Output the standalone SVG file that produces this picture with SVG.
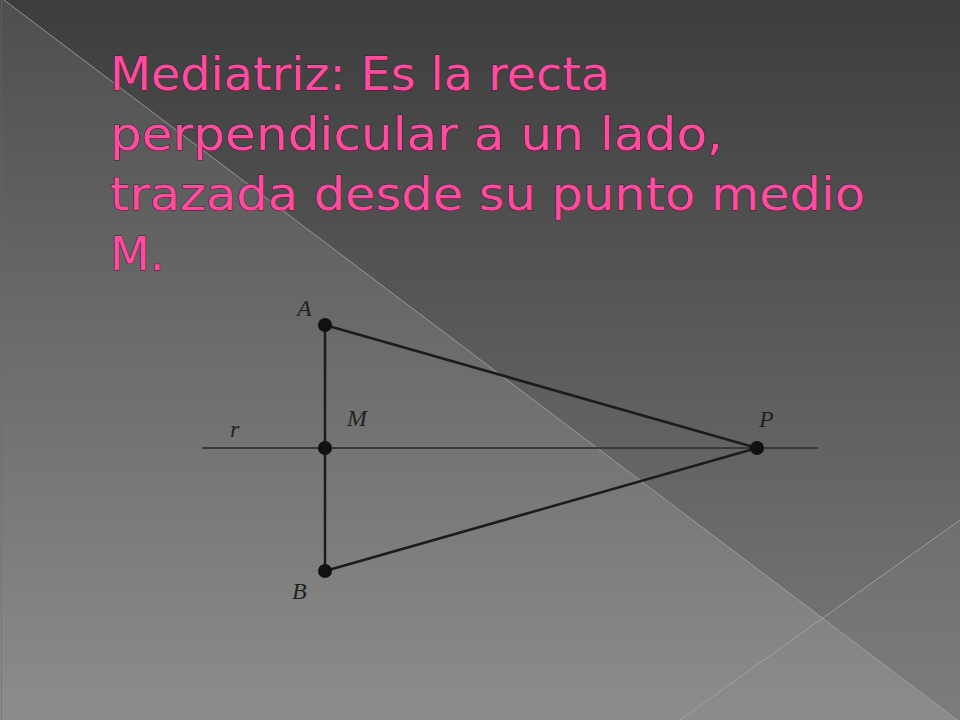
<svg xmlns="http://www.w3.org/2000/svg" width="960" height="720" viewBox="0 0 960 720">
  <defs>
    <linearGradient id="gTop" x1="0" y1="0" x2="0" y2="720" gradientUnits="userSpaceOnUse">
      <stop offset="0" stop-color="#3d3d3d"/>
      <stop offset="1" stop-color="#7a7a7a"/>
    </linearGradient>
    <linearGradient id="gLeft" x1="0" y1="0" x2="0" y2="720" gradientUnits="userSpaceOnUse">
      <stop offset="0" stop-color="#4e4e4e"/>
      <stop offset="1" stop-color="#8c8c8c"/>
    </linearGradient>
    <linearGradient id="gWedge" x1="0" y1="520" x2="0" y2="720" gradientUnits="userSpaceOnUse">
      <stop offset="0" stop-color="#6f6f6f"/>
      <stop offset="1" stop-color="#7c7c7c"/>
    </linearGradient>
    <style>
      .title { font-family: "Century Gothic", "URW Gothic", "DejaVu Sans", sans-serif; font-size: 46px; fill: #ff4c9e; stroke: #3a1a2c; stroke-width: 1px; paint-order: stroke; }
      .seam { stroke: #a8a8a8; stroke-width: 1; stroke-opacity: 0.8; fill: none; }
      .seg { stroke: #1c1c1c; stroke-width: 2.5; stroke-linecap: round; }
      .rline { stroke: #3a3a3a; stroke-width: 2; }
      .dot { fill: #111; }
      .lbl { font-family: "Liberation Serif", "Times New Roman", serif; font-style: italic; font-size: 24px; fill: #222; }
    </style>
  </defs>

  <!-- background -->
  <rect x="0" y="0" width="960" height="720" fill="url(#gTop)"/>
  <polygon points="0,-3 960,722 960,720 0,720" fill="url(#gLeft)"/>
  <polygon points="823,617 960,520 960,722" fill="url(#gWedge)"/>
  <line class="seam" x1="0" y1="-3" x2="960" y2="722"/>
  <line class="seam" x1="680" y1="720" x2="960" y2="520"/>
  <line x1="1.5" y1="0" x2="1.5" y2="720" stroke="#6a6a6a" stroke-width="1" stroke-opacity="0.5"/>

  <!-- title -->
  <g id="title">
    <text class="title" x="110" y="90" textLength="500" lengthAdjust="spacingAndGlyphs">Mediatriz: Es la recta</text>
    <text class="title" x="110" y="150" textLength="613" lengthAdjust="spacingAndGlyphs">perpendicular a un lado,</text>
    <text class="title" x="110" y="210" textLength="755" lengthAdjust="spacingAndGlyphs">trazada desde su punto medio</text>
    <text class="title" x="110" y="270">M.</text>
  </g>

  <!-- connectors -->
  <g id="connectors">
    <line class="rline" x1="202" y1="448" x2="818" y2="448"/>
    <line class="seg" x1="325" y1="325" x2="325" y2="571"/>
    <line class="seg" x1="325" y1="325" x2="757" y2="448"/>
    <line class="seg" x1="325" y1="571" x2="757" y2="448"/>
  </g>

  <!-- nodes -->
  <g id="node-A">
    <circle class="dot" cx="325" cy="325" r="7"/>
    <text class="lbl" x="297" y="316">A</text>
  </g>
  <g id="node-M">
    <circle class="dot" cx="325" cy="448" r="7"/>
    <text class="lbl" x="347" y="426">M</text>
  </g>
  <g id="node-B">
    <circle class="dot" cx="325" cy="571" r="7"/>
    <text class="lbl" x="292" y="599">B</text>
  </g>
  <g id="node-P">
    <circle class="dot" cx="757" cy="448" r="7"/>
    <text class="lbl" x="759" y="427">P</text>
  </g>
  <g id="label-r">
    <text class="lbl" x="230" y="437">r</text>
  </g>
</svg>
